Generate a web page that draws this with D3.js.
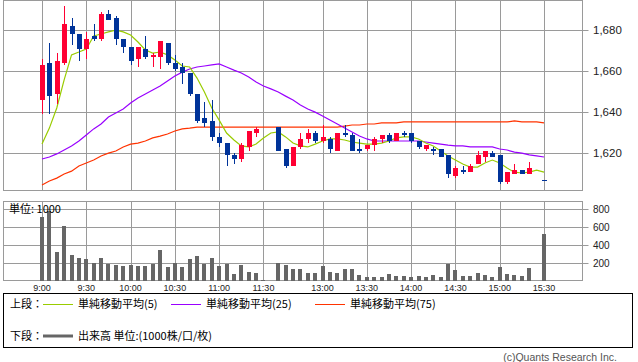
<!DOCTYPE html>
<html>
<head>
<meta charset="utf-8">
<script src="https://cdn.jsdelivr.net/npm/d3@7"></script>
<style>
  body { margin: 0; background: #fff; }
  svg { display: block; font-family: "Liberation Sans", Arial, sans-serif; }
  .jp { font-family: "Noto Sans CJK JP", "Noto Sans", sans-serif; }
</style>
</head>
<body>
<div id="chart"></div>
<script>
// 1: DATA (5-minute bars, one slot left empty over the lunch break)
const times = [
  "9:00","9:05","9:10","9:15","9:20","9:25","9:30","9:35","9:40","9:45","9:50","9:55",
  "10:00","10:05","10:10","10:15","10:20","10:25","10:30","10:35","10:40","10:45","10:50","10:55",
  "11:00","11:05","11:10","11:15","11:20","11:25","11:30","-",
  "12:30","12:35","12:40","12:45","12:50","12:55",
  "13:00","13:05","13:10","13:15","13:20","13:25","13:30","13:35","13:40","13:45","13:50","13:55",
  "14:00","14:05","14:10","14:15","14:20","14:25","14:30","14:35","14:40","14:45","14:50","14:55",
  "15:00","15:05","15:10","15:15","15:20","15:25","15:30"
];
const timeTicks = ["9:00","9:30","10:00","10:30","11:00","11:30","13:00","13:30","14:00","14:30","15:00","15:30"];

const opens = [1646,1664,1649,1664,1682,1678,1671,1677,1676,1688, 1686,1676,1672,1666,1671,1667,1667,1674,1664,1662,
  1659,1649,1637,1636,1628,1625,1619,1617,1623,1630, null,null,1633,1622,1614,1623,1627,1630,1626,1627,
  1621,1630,1629,1622,1622,1624,1627,1629,1626,1630, 1630,1626,1622,1622,1622,1619,1609,1612,1611,1615,
  1618,1620,1619,1606,1610,1612,1610,null,1607];
const highs = [1666,1674,1669,1692,1686,1678,1679,1683,1689,1690, 1687,1676,1672,1672,1677,1669,1675,1674,1668,1664,
  1659,1649,1645,1646,1630,1625,1620,1625,1631,1633, null,null,1633,1622,1623,1630,1632,1631,1634,1628,
  1630,1634,1630,1627,1624,1628,1629,1630,1630,1631, 1630,1626,1624,1623,1622,1619,1614,1614,1615,1621,
  1621,1621,1619,1611,1615,1612,1616,null,1607];
const lows = [1639,1639,1644,1663,1673,1665,1666,1675,1675,1685, 1673,1669,1663,1662,1666,1662,1661,1663,1660,1654,
  1648,1635,1633,1626,1623,1614,1615,1616,1621,1628, null,null,1621,1613,1614,1622,1625,1625,1625,1620,
  1621,1628,1621,1620,1621,1621,1625,1625,1626,1628, 1625,1622,1621,1619,1618,1608,1608,1610,1611,1615,
  1616,1618,1605,1605,1610,1610,1610,null,1607];
const closes = [1663,1648,1665,1683,1678,1671,1676,1676,1688,1685, 1676,1672,1665,1672,1667,1668,1675,1664,1661,1659,
  1649,1636,1635,1628,1625,1619,1617,1624,1631,1632, null,null,1621,1614,1623,1627,1630,1626,1628,1622,
  1630,1629,1621,1621,1624,1627,1629,1626,1630,1629, 1626,1623,1624,1621,1618,1610,1613,1611,1614,1619,
  1621,1618,1606,1611,1612,1610,1613,null,1607];
const volumes = [716,783,320,616,294,253,239,205,253,194, 183,172,183,164,172,194,350,153,205,153,
  250,283,194,261,172,194,83,183,105,94, 9,null,205,183,128,128,94,92,164,105,
  91,128,128,72,50,39,50,80,61,61, 50,61,50,72,50,187,117,61,61,94,
  72,50,161,83,72,61,139,null,527];

const ma5 = [1624.5,1632.3,1642.1,1655.8,1668.0,1669.4,1670.9,1677.2,1678.2,1679.2,
  1680.1,1679.2,1677.7,1674.3,1670.4,1668.9,1669.4,1668.0,1665.5,1662.6,
  1662.1,1656.7,1649.9,1642.1,1636.2,1629.9,1626.5,1623.6,1623.1,1624.5,
  1627.5,1629.9,1630.4,1628.0,1625.0,1623.6,1623.1,1624.5,1626.0,1627.0,
  1627.0,1626.5,1625.5,1625.0,1624.5,1624.5,1625.0,1626.0,1627.5,1628.0,
  1628.0,1627.0,1625.0,1623.6,1621.1,1618.7,1616.7,1614.8,1613.3,1613.3,
  1615.3,1616.7,1615.3,1612.8,1610.8,1610.4,1610.8,1611.8,1610.8];
const ma25 = [1617.2,1618.2,1619.7,1621.6,1623.6,1626.0,1628.9,1631.9,1634.3,1637.7,
  1639.7,1641.6,1644.5,1647.0,1648.9,1650.9,1652.8,1655.3,1657.7,1659.6,
  1661.1,1662.1,1662.6,1663.1,1663.6,1662.1,1660.6,1659.2,1657.2,1654.8,
  1652.8,1651.4,1649.9,1647.9,1646.0,1643.6,1641.6,1640.1,1638.2,1636.2,
  1634.3,1632.3,1630.4,1628.4,1627.0,1626.0,1626.0,1626.0,1626.0,1626.0,
  1626.0,1626.0,1625.5,1625.0,1624.5,1624.0,1623.6,1623.6,1623.1,1623.1,
  1623.1,1623.1,1622.1,1621.6,1620.6,1620.1,1619.2,1618.7,1618.2];
const ma75 = [1604.5,1606.5,1607.9,1609.9,1611.3,1613.8,1615.3,1616.7,1618.7,1620.1,
  1621.1,1623.1,1624.5,1625.0,1626.0,1627.5,1628.4,1629.4,1630.9,1631.9,
  1632.3,1632.8,1632.8,1632.8,1632.8,1632.8,1632.8,1632.8,1632.8,1632.8,
  1632.8,1632.8,1632.8,1632.8,1632.8,1632.8,1632.8,1632.8,1632.8,1632.8,
  1632.8,1633.3,1633.8,1633.8,1634.3,1634.3,1634.8,1634.8,1634.8,1635.3,
  1635.3,1635.3,1635.3,1635.3,1635.3,1635.3,1635.3,1635.3,1635.3,1635.3,
  1635.3,1635.3,1635.3,1635.3,1635.8,1635.3,1635.3,1635.3,1634.8];

const priceTicks = [1620, 1640, 1660, 1680];
const volumeTicks = [200, 400, 600, 800];

// 2: LAYOUT
const W = 638, H = 362;
const left = 3.5, right = 582.5;
const pTop = 0.5, pBottom = 190.5;
const vTop = 201.5, vBottom = 280.5;

const svg = d3.select("#chart").append("svg")
  .attr("width", W).attr("height", H);

const x = d3.scalePoint().domain(times).range([42, 544]);
const y = d3.scaleLinear().domain([1620, 1680]).range([153.3, 30.3]);
const yv = d3.scaleLinear().domain([0, 800]).range([281, 209]);

const red = "#ff0033", blue = "#003399", grid = "#9a9a9a";
const crisp = v => Math.round(v) + 0.5;

// 3: GRIDS + FRAMES
function frame(top, bottom, yScale, ticks, fmt, fontSize) {
  const g = svg.append("g");
  g.selectAll(".vg").data(timeTicks).join("line")
    .attr("x1", d => crisp(x(d))).attr("x2", d => crisp(x(d)))
    .attr("y1", top).attr("y2", bottom)
    .attr("stroke", grid);
  g.selectAll(".hg").data(ticks).join("line")
    .attr("x1", left).attr("x2", right + 6)
    .attr("y1", d => crisp(yScale(d))).attr("y2", d => crisp(yScale(d)))
    .attr("stroke", grid);
  g.append("rect")
    .attr("x", left).attr("y", top)
    .attr("width", right - left).attr("height", bottom - top)
    .attr("fill", "none").attr("stroke", grid);
  g.selectAll("text").data(ticks).join("text")
    .attr("x", 593).attr("y", d => yScale(d))
    .attr("dy", "0.35em")
    .attr("font-size", fontSize).attr("fill", "#222")
    .text(fmt);
  return g;
}
frame(pTop, pBottom, y, priceTicks, d3.format(","), 11.5);
frame(vTop, vBottom, yv, volumeTicks, d => d, 10);

// time labels
svg.append("g").selectAll("text").data(timeTicks).join("text")
  .attr("x", d => x(d)).attr("y", 291)
  .attr("text-anchor", "middle")
  .attr("font-size", 9).attr("fill", "#222")
  .text(d => d);

// 4: MOVING AVERAGES
const maLine = arr => d3.line()
  .x((d, i) => x(times[i]))
  .y(d => y(d))(arr);

[[ma75, "#ff3300"], [ma25, "#9900ff"], [ma5, "#99cc00"]].forEach(([arr, c]) => {
  svg.append("path")
    .attr("d", maLine(arr))
    .attr("fill", "none")
    .attr("stroke", c)
    .attr("stroke-width", 1.2);
});

// 5: CANDLES
const bars = times.map((t, i) => ({
  t, o: opens[i], h: highs[i], l: lows[i], c: closes[i], v: volumes[i]
}));
const candles = bars.filter(d => d.o != null);

const cg = svg.append("g").attr("shape-rendering", "crispEdges");
cg.selectAll(".wick").data(candles).join("line")
  .attr("x1", d => Math.round(x(d.t)) + 0.5)
  .attr("x2", d => Math.round(x(d.t)) + 0.5)
  .attr("y1", d => y(d.h)).attr("y2", d => y(d.l))
  .attr("stroke", d => d.c > d.o ? red : blue);
cg.selectAll(".body").data(candles).join("rect")
  .attr("x", d => Math.round(x(d.t)) - 2)
  .attr("width", 5)
  .attr("y", d => y(Math.max(d.o, d.c)))
  .attr("height", d => Math.max(1, Math.abs(y(d.o) - y(d.c))))
  .attr("fill", d => d.c > d.o ? red : blue);

// 6: VOLUME
svg.append("g").attr("shape-rendering", "crispEdges")
  .selectAll("rect").data(bars.filter(d => d.v != null)).join("rect")
  .attr("x", d => Math.round(x(d.t)) - 2)
  .attr("width", 4)
  .attr("y", d => yv(d.v))
  .attr("height", d => vBottom - yv(d.v))
  .attr("fill", "#666");

svg.append("text").attr("class", "jp")
  .attr("x", 9).attr("y", 213)
  .attr("font-size", 11).attr("fill", "#000")
  .text("単位: 1000");

// 7: LEGEND
svg.append("rect")
  .attr("x", 3.5).attr("y", 293.5).attr("width", 629).attr("height", 54)
  .attr("fill", "none").attr("stroke", "#000");

const legendItems = [
  { x: 43, label: "単純移動平均(5)", color: "#99cc00" },
  { x: 171, label: "単純移動平均(25)", color: "#9900ff" },
  { x: 315, label: "単純移動平均(75)", color: "#ff3300" }
];
const lg = svg.append("g").attr("class", "jp").attr("font-size", 11);
lg.append("text").attr("x", 10).attr("y", 308).text("上段：");
legendItems.forEach(d => {
  lg.append("line")
    .attr("x1", d.x).attr("x2", d.x + 30)
    .attr("y1", 304.5).attr("y2", 304.5)
    .attr("stroke", d.color);
  lg.append("text").attr("x", d.x + 35).attr("y", 308).text(d.label);
});
lg.append("text").attr("x", 10).attr("y", 340).text("下段：");
lg.append("line")
  .attr("x1", 43).attr("x2", 73)
  .attr("y1", 336).attr("y2", 336)
  .attr("stroke", "#666").attr("stroke-width", 3);
lg.append("text").attr("x", 78).attr("y", 340).text("出来高 単位:(1000株/口/枚)");

svg.append("text")
  .attr("x", 617).attr("y", 361)
  .attr("text-anchor", "end")
  .attr("font-size", 10.5).attr("fill", "#555")
  .text("(c)Quants Research Inc.");
</script>
</body>
</html>
